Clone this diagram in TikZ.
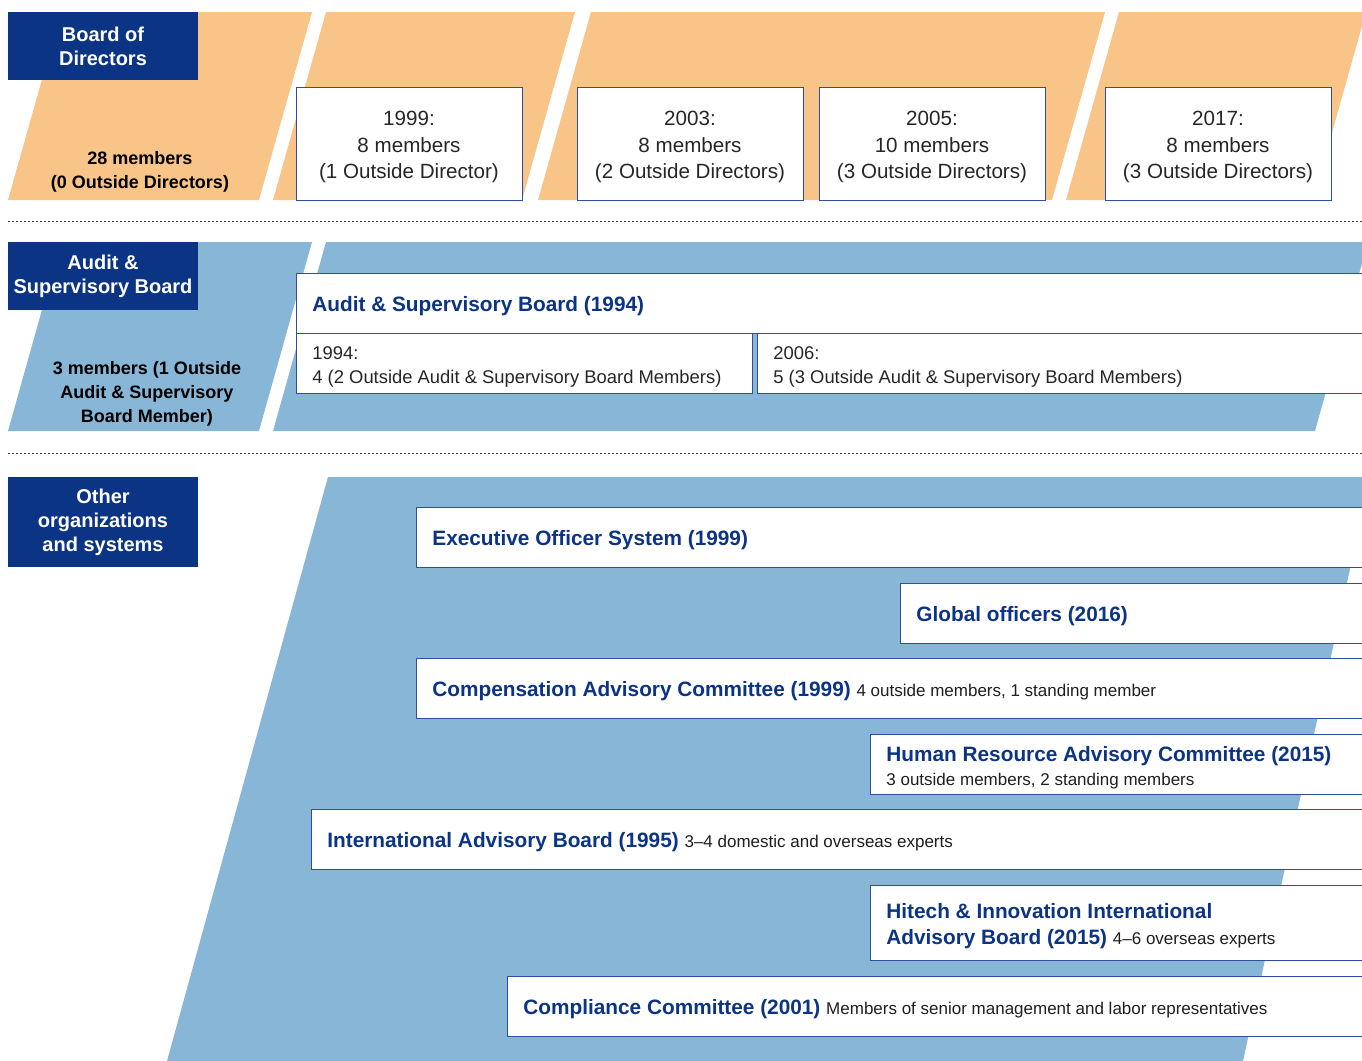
\documentclass[tikz,border=0pt]{standalone}
\usepackage{fontspec}
\setmainfont{Liberation Sans}
\usepackage{tikz}
\usetikzlibrary{positioning}

\definecolor{navy}{HTML}{0C3485}
\definecolor{peach}{HTML}{F8C488}
\definecolor{skyband}{HTML}{87B6D6}
\definecolor{frame}{HTML}{2F4F9E}

\newcommand{\smallnote}[1]{{\fontsize{8.5}{10}\selectfont\mdseries\color{black!88}#1}}

\begin{document}
\begin{tikzpicture}[x=0.5pt, y=-0.5pt,
    tag/.style={fill=navy, text=white, inner sep=0pt, align=center,
                minimum width=95pt, font=\fontsize{10}{12}\selectfont\bfseries},
    leadtxt/.style={align=center, inner sep=0pt, text=black, yshift=-1.5pt,
                    font=\fontsize{9}{12}\selectfont\bfseries},
    yearbox/.style={draw=frame, fill=white, line width=0.45pt,
                    minimum width=113pt, minimum height=56.5pt, inner sep=0pt},
    yeartxt/.style={align=center, inner sep=0pt, text=black!85, yshift=-1.75pt,
                    font=\fontsize{10.3}{13.25}\selectfont},
    wbox/.style={draw=frame, fill=white, line width=0.6pt, anchor=north west,
                 minimum width=560pt, minimum height=30pt, inner sep=0pt},
    headtxt/.style={text=navy, inner sep=0pt, align=left, yshift=-1.5pt,
                    font=\fontsize{10.4}{13}\selectfont\bfseries},
    subtxt/.style={inner sep=0pt, align=left, text=black!85, yshift=-1.5pt,
                   font=\fontsize{9.2}{12}\selectfont},
    divider/.style={black!75, line width=0.5pt, dash pattern=on 1pt off 1pt}
  ]
    \useasboundingbox (0,0) rectangle (1362,1061);
    \clip (0,0) rectangle (1362,1061);

    % Board of Directors row
    \foreach \bl/\tr in {8/312, 273/575, 538/1105, 1066/1366}
      \fill[peach] (\bl,200) -- (\bl+53,12) -- (\tr,12) -- (\tr-53,200) -- cycle;
    \node[tag, minimum height=34pt] (bod) at (103,46) {Board of\\Directors};
    \node[leadtxt] (bodnum) at (140,169) {28 members\\(0 Outside Directors)};
    \foreach \cx/\yr/\num/\od [count=\i] in
        {409/1999/8/1 Outside Director, 690/2003/8/2 Outside Directors,
         932/2005/10/3 Outside Directors, 1218/2017/8/3 Outside Directors}
    {
      \node[yearbox] (yr\i) at (\cx,143.5) {};
      \node[yeartxt] (yrT\i) at (yr\i) {\yr:\\\num{} members\\(\od)};
    }

    \draw[divider] (8,221) -- (1362,221);

    % Audit & Supervisory Board row
    \fill[skyband] (8,431) -- (61,242) -- (312,242) -- (259,431) -- cycle;
    \fill[skyband] (273,431) -- (326,242) -- (1368,242) -- (1315,431) -- cycle;
    \node[tag, minimum height=34pt] (asb) at (103,276) {Audit \&\\Supervisory Board};
    \node[leadtxt] (asbnum) at (147,391)
      {3 members (1 Outside\\Audit \& Supervisory\\Board Member)};
    \node[wbox] (asbhead) at (296,273) {};
    \node[headtxt, right=8pt of asbhead.west] (asbheadT)
      {Audit \& Supervisory Board (1994)};
    \node[wbox, minimum width=228pt] (asb94) at (296,333) {};
    \node[subtxt, right=8pt of asb94.west] (asb94T)
      {1994:\\4 (2 Outside Audit \& Supervisory Board Members)};
    \node[wbox] (asb06) at (757,333) {};
    \node[subtxt, right=8pt of asb06.west] (asb06T)
      {2006:\\5 (3 Outside Audit \& Supervisory Board Members)};

    \draw[divider] (8,453) -- (1362,453);

    % Other organizations and systems
    \fill[skyband] (167,1061) -- (328,477) -- (1370,477) -- (1243,1061) -- cycle;
    \node[tag, minimum height=45pt] (other) at (103,522)
      {Other\\organizations\\and systems};
    \node[wbox] (exec) at (416,507) {};
    \node[headtxt, right=8pt of exec.west] (execT) {Executive Officer System (1999)};
    \node[wbox] (glob) at (900,583) {};
    \node[headtxt, right=8pt of glob.west] (globT) {Global officers (2016)};
    \node[wbox] (comp) at (416,658) {};
    \node[headtxt, right=8pt of comp.west] (compT)
      {Compensation Advisory Committee (1999) \smallnote{4 outside members, 1 standing member}};
    \node[wbox] (hr) at (870,734) {};
    \node[headtxt, right=8pt of hr.west] (hrT)
      {Human Resource Advisory Committee (2015)\\[-1pt]\smallnote{3 outside members, 2 standing members}};
    \node[wbox] (intl) at (311,809) {};
    \node[headtxt, right=8pt of intl.west] (intlT)
      {International Advisory Board (1995) \smallnote{3–4 domestic and overseas experts}};
    \node[wbox, minimum height=37.5pt] (hitech) at (870,885) {};
    \node[headtxt, right=8pt of hitech.west] (hitechT)
      {Hitech \& Innovation International\\Advisory Board (2015) \smallnote{4–6 overseas experts}};
    \node[wbox] (compl) at (507,976) {};
    \node[headtxt, right=8pt of compl.west] (complT)
      {Compliance Committee (2001) \smallnote{Members of senior management and labor representatives}};
\end{tikzpicture}
\end{document}
